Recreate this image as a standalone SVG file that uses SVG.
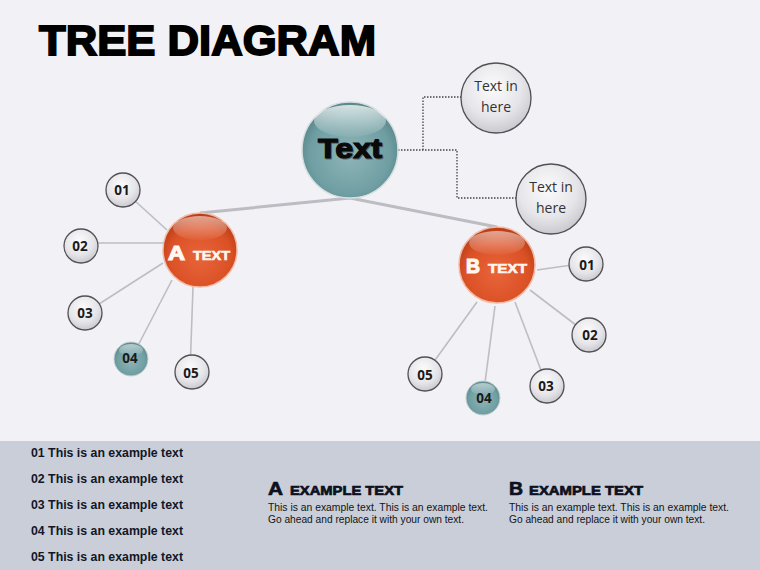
<svg xmlns="http://www.w3.org/2000/svg" width="760" height="570" viewBox="0 0 760 570">
<defs>
<radialGradient id="gTeal" cx="0.5" cy="0.55" r="0.6">
<stop offset="0" stop-color="#8fb5b8"/><stop offset="0.7" stop-color="#6f9ea2"/><stop offset="1" stop-color="#4f7c80"/>
</radialGradient>
<radialGradient id="gOrange" cx="0.5" cy="0.6" r="0.6">
<stop offset="0" stop-color="#e9643a"/><stop offset="0.7" stop-color="#db5126"/><stop offset="1" stop-color="#b73c16"/>
</radialGradient>
<radialGradient id="gGray" cx="0.45" cy="0.35" r="0.75">
<stop offset="0" stop-color="#fbfbfc"/><stop offset="0.55" stop-color="#e6e6ea"/><stop offset="1" stop-color="#bdbdc4"/>
</radialGradient>
<linearGradient id="gHi" x1="0" y1="0" x2="0" y2="1">
<stop offset="0" stop-color="#ffffff" stop-opacity="0.75"/><stop offset="1" stop-color="#ffffff" stop-opacity="0.05"/>
</linearGradient>
</defs>
<style>
.sm{fill:url(#gGray);stroke:#505055;stroke-width:1.3}
.smt{fill:url(#gTeal);stroke:#c8d4d6;stroke-width:1}
.num{font-family:"Open Sans","Liberation Sans",sans-serif;font-weight:bold;font-size:13.5px;fill:#1a1a1a;text-anchor:middle}
.br{stroke:#bdbdc4;stroke-width:1.6;fill:none}
.list{font-family:"Liberation Sans",Arial,sans-serif;font-weight:bold;font-size:12.5px;fill:#121626}
.body{font-family:"Liberation Sans",Arial,sans-serif;font-size:11px;fill:#141414}
.hd{font-family:"Liberation Sans",Arial,sans-serif;font-weight:900;fill:#0d1020;stroke:#0d1020;stroke-width:0.7}
.sub{font-family:"Open Sans","Liberation Sans",sans-serif;font-size:14px;fill:#333;text-anchor:middle}
.wt{font-family:"Liberation Sans",Arial,sans-serif;font-weight:bold;fill:#fff7f0;stroke:#fff7f0}
</style>
<rect x="0" y="0" width="760" height="570" fill="#f2f1f5"/>
<rect x="0" y="441" width="760" height="129" fill="#c9ced9"/>
<text x="39" y="55" font-family="Liberation Sans,Arial,sans-serif" font-weight="900" font-size="42" fill="#000" stroke="#000" stroke-width="1.8" textLength="337" lengthAdjust="spacingAndGlyphs">TREE DIAGRAM</text>

<g id="connectors">
<polyline points="200,213 350,198 497,227" stroke="#bcbcc3" stroke-width="3" fill="none"/>
<path d="M398,150 H457 V198 H516 M423,150 V97 H461" stroke="#444" stroke-width="1.3" stroke-dasharray="1.5,1.5" fill="none"/>
<line class="br" x1="123" y1="190" x2="167" y2="230"/>
<line class="br" x1="81" y1="243" x2="165" y2="243"/>
<line class="br" x1="85" y1="313" x2="163" y2="263"/>
<line class="br" x1="131" y1="359" x2="172" y2="280"/>
<line class="br" x1="190" y1="372" x2="193" y2="287"/>
<line class="br" x1="537" y1="270" x2="586" y2="263"/>
<line class="br" x1="530" y1="290" x2="589" y2="335"/>
<line class="br" x1="515" y1="302" x2="547" y2="386"/>
<line class="br" x1="495" y1="306" x2="483" y2="398"/>
<line class="br" x1="477" y1="302" x2="425" y2="374"/>
</g>

<g id="node-center">
<circle cx="350" cy="150" r="48" fill="url(#gTeal)" stroke="#d6dfe0" stroke-width="1.5"/>
<ellipse cx="350" cy="121" rx="36" ry="16" fill="url(#gHi)"/>
<text x="351" y="159" font-family="Liberation Sans,Arial,sans-serif" font-weight="900" font-size="28" fill="#5a6a6c" stroke="#5a6a6c" stroke-width="1.2" textLength="64" lengthAdjust="spacingAndGlyphs" text-anchor="middle">Text</text>
<text x="350" y="158" font-family="Liberation Sans,Arial,sans-serif" font-weight="900" font-size="28" fill="#0a0a0a" stroke="#0a0a0a" stroke-width="1.2" textLength="64" lengthAdjust="spacingAndGlyphs" text-anchor="middle">Text</text>
</g>

<g id="node-sub1">
<circle cx="496" cy="98" r="35" class="sm"/>
<text x="496" y="91" class="sub">Text in</text>
<text x="496" y="112" class="sub">here</text>
</g>
<g id="node-sub2">
<circle cx="551" cy="199" r="35" class="sm"/>
<text x="551" y="192" class="sub">Text in</text>
<text x="551" y="213" class="sub">here</text>
</g>

<g id="node-A">
<circle cx="200" cy="250" r="37" fill="url(#gOrange)" stroke="#f2b9a4" stroke-width="1.5"/>
<ellipse cx="200" cy="228" rx="27" ry="12" fill="url(#gHi)" opacity="0.7"/>
<text x="168" y="260" class="wt" font-size="20" stroke-width="1.2" textLength="17" lengthAdjust="spacingAndGlyphs">A</text>
<text x="193" y="260" class="wt" font-size="12.5" stroke-width="0.6" textLength="37" lengthAdjust="spacingAndGlyphs">TEXT</text>
</g>
<g id="node-B">
<circle cx="497" cy="265" r="38" fill="url(#gOrange)" stroke="#f2b9a4" stroke-width="1.5"/>
<ellipse cx="497" cy="243" rx="28" ry="12" fill="url(#gHi)" opacity="0.7"/>
<text x="466" y="273" class="wt" font-size="20" stroke-width="1.2" textLength="14" lengthAdjust="spacingAndGlyphs">B</text>
<text x="488" y="273" class="wt" font-size="12.5" stroke-width="0.6" textLength="39" lengthAdjust="spacingAndGlyphs">TEXT</text>
</g>

<g id="node-A01"><circle cx="123" cy="190" r="17" class="sm"/><text x="122" y="195" class="num">01</text></g>
<g id="node-A02"><circle cx="81" cy="246" r="17" class="sm"/><text x="80" y="251" class="num">02</text></g>
<g id="node-A03"><circle cx="85" cy="313" r="17" class="sm"/><text x="85" y="318" class="num">03</text></g>
<g id="node-A04"><circle cx="131" cy="359" r="17" class="smt"/><ellipse cx="131" cy="350" rx="12" ry="6" fill="url(#gHi)" opacity="0.7"/><text x="130" y="363" class="num">04</text></g>
<g id="node-A05"><circle cx="192" cy="372" r="17" class="sm"/><text x="191" y="378" class="num">05</text></g>

<g id="node-B01"><circle cx="586" cy="264" r="17" class="sm"/><text x="587" y="270" class="num">01</text></g>
<g id="node-B02"><circle cx="589" cy="335" r="17" class="sm"/><text x="590" y="340" class="num">02</text></g>
<g id="node-B03"><circle cx="547" cy="386" r="17" class="sm"/><text x="546" y="391" class="num">03</text></g>
<g id="node-B04"><circle cx="483" cy="398" r="17" class="smt"/><ellipse cx="483" cy="389" rx="12" ry="6" fill="url(#gHi)" opacity="0.7"/><text x="484" y="403" class="num">04</text></g>
<g id="node-B05"><circle cx="425" cy="374" r="17" class="sm"/><text x="425" y="380" class="num">05</text></g>

<g id="legend">
<text x="31" y="457" class="list" textLength="152" lengthAdjust="spacingAndGlyphs">01 This is an example text</text>
<text x="31" y="483" class="list" textLength="152" lengthAdjust="spacingAndGlyphs">02 This is an example text</text>
<text x="31" y="509" class="list" textLength="152" lengthAdjust="spacingAndGlyphs">03 This is an example text</text>
<text x="31" y="535" class="list" textLength="152" lengthAdjust="spacingAndGlyphs">04 This is an example text</text>
<text x="31" y="561" class="list" textLength="152" lengthAdjust="spacingAndGlyphs">05 This is an example text</text>

<text x="268" y="495" class="hd" font-size="18" textLength="15" lengthAdjust="spacingAndGlyphs">A</text>
<text x="290" y="495" class="hd" font-size="13" textLength="113" lengthAdjust="spacingAndGlyphs">EXAMPLE TEXT</text>
<text x="268" y="511" class="body" textLength="220" lengthAdjust="spacingAndGlyphs">This is an example text. This is an example text.</text>
<text x="268" y="523" class="body" textLength="196" lengthAdjust="spacingAndGlyphs">Go ahead and replace it with your own text.</text>

<text x="509" y="495" class="hd" font-size="18" textLength="14" lengthAdjust="spacingAndGlyphs">B</text>
<text x="529" y="495" class="hd" font-size="13" textLength="114" lengthAdjust="spacingAndGlyphs">EXAMPLE TEXT</text>
<text x="509" y="511" class="body" textLength="220" lengthAdjust="spacingAndGlyphs">This is an example text. This is an example text.</text>
<text x="509" y="523" class="body" textLength="196" lengthAdjust="spacingAndGlyphs">Go ahead and replace it with your own text.</text>
</g>
</svg>
